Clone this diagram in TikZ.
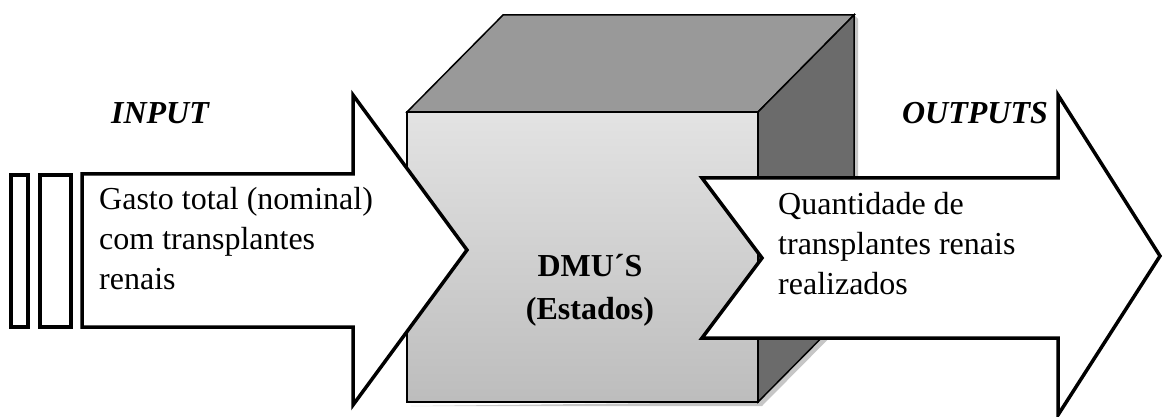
\documentclass[tikz,border=0pt]{standalone}
\usepackage{fontspec}
\setmainfont{Liberation Serif}
\definecolor{topgray}{gray}{0.6}
\definecolor{sidegray}{gray}{0.42}
\definecolor{frontlight}{gray}{0.89}
\definecolor{frontdark}{gray}{0.74}
\tikzstyle{face}=[draw=black, line width=1.5pt, line join=miter]
\tikzstyle{bigarrow}=[draw=black, line width=3.5pt, line join=miter, fill=white]
\tikzstyle{txt}=[font=\fontsize{32}{40}\selectfont, align=left, inner sep=0pt]
\tikzstyle{head}=[font=\fontsize{32}{40}\selectfont\bfseries\itshape, inner sep=0pt]

\begin{document}
\begin{tikzpicture}[x=1pt, y=-1pt]
				\useasboundingbox (0,0) rectangle (1165,417);
				% cube
				\coordinate (ftl) at (407,112);
				\coordinate (ftr) at (758,112);
				\coordinate (fbr) at (758,402);
				\coordinate (fbl) at (407,402);
				\coordinate (btl) at (503,15);
				\coordinate (btr) at (854,15);
				\coordinate (bbr) at (854,305);
				\fill[gray!45] ([shift={(4,4)}] fbl) -- ([shift={(4,4)}] fbr) -- ([shift={(4,4)}] bbr) -- ([shift={(4,4)}] btr) -- (btr) -- (fbr) -- cycle;
				\draw[face, fill=topgray] (ftl) -- (btl) -- (btr) -- (ftr) -- cycle;
				\draw[face, fill=sidegray] (ftr) -- (btr) -- (bbr) -- (fbr) -- cycle;
				\draw[face, top color=frontlight, bottom color=frontdark] (ftl) rectangle (fbr);
				% input side
				\draw[bigarrow] (11,175) rectangle (28,327);
				\draw[bigarrow] (40,175) rectangle (71,327);
				\draw[bigarrow] (82,174) -- (353,174) -- (353,95) -- (467,250) -- (353,405) -- (353,327) -- (82,327) -- cycle;
				% output side
				\draw[bigarrow] (702,178) -- (1058,178) -- (1058,95) -- (1160,256) -- (1058,415) -- (1058,338) -- (702,338) -- (762,258) -- cycle;
				% texts
				\node[head] (input) at (160,113) {INPUT};
				\node[head] (outputs) at (975,113) {OUTPUTS};
				\node[txt, anchor=north west] (gasto) at (99,187) {Gasto total (nominal)\\com transplantes\\renais};
				\node[txt, anchor=north west] (qtd) at (778,192) {\baselineskip=37pt Quantidade de\\transplantes renais\\realizados};
				\node[txt, font=\fontsize{32}{43}\selectfont\bfseries, align=center] (dmu) at (590,290) {DMU´S\\(Estados)};
			\end{tikzpicture}
\end{document}
